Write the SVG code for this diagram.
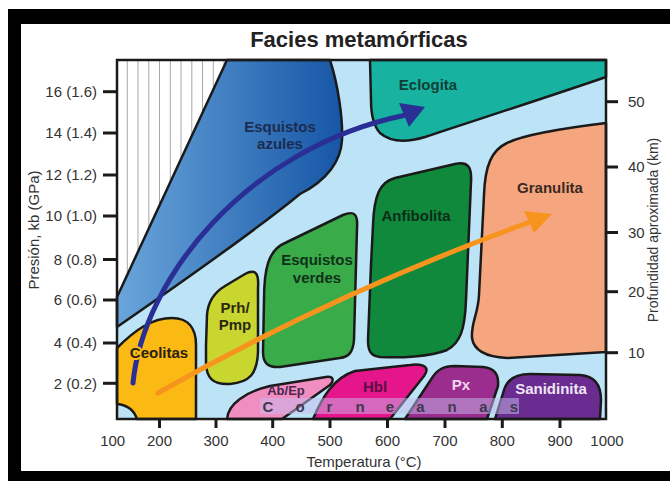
<svg xmlns="http://www.w3.org/2000/svg" width="670" height="481" viewBox="0 0 670 481">
<defs>
<linearGradient id="gBlue" x1="117" y1="0" x2="342" y2="0" gradientUnits="userSpaceOnUse">
<stop offset="0" stop-color="#6aa6db"/><stop offset="1" stop-color="#1656a6"/>
</linearGradient>
<clipPath id="hatchClip"><polygon points="117,60 227,60 117,297"/></clipPath>
<style>
.f{stroke:#1a1a1a;stroke-width:2.5;stroke-linejoin:round}
.lbl{font-family:"Liberation Sans",Arial,sans-serif;font-weight:bold;font-size:15px;text-anchor:middle}
.ax{font-family:"Liberation Sans",Arial,sans-serif;font-size:15px;fill:#333}
.axl{text-anchor:end}
.axm{text-anchor:middle}
.tick{stroke:#1a1a1a;stroke-width:3}
.hatch{stroke:#a8a8a8;stroke-width:1}
.arrow{fill:none;stroke-width:5;stroke-linecap:round}
</style>
</defs>
<rect width="670" height="481" fill="#fff"/>
<!-- black frame -->
<g id="frame" fill="#000">
<rect x="8" y="9" width="662" height="15"/>
<rect x="8" y="9" width="13" height="472"/>
<rect x="8" y="471" width="662" height="10"/>
</g>
<text x="359" y="47" font-family="'Liberation Sans',Arial,sans-serif" font-weight="bold" font-size="22" fill="#222" text-anchor="middle">Facies metamórficas</text>

<!-- plot background -->
<rect x="117" y="60" width="489" height="359" fill="#bde3f7"/>
<g id="hatched">
<polygon points="117,60 227,60 117,297" fill="#fff"/>
<g clip-path="url(#hatchClip)" class="hatch">
<line x1="127.3" y1="60" x2="127.3" y2="300"/><line x1="138" y1="60" x2="138" y2="300"/>
<line x1="148.8" y1="60" x2="148.8" y2="300"/><line x1="159.5" y1="60" x2="159.5" y2="300"/>
<line x1="170.3" y1="60" x2="170.3" y2="300"/><line x1="181" y1="60" x2="181" y2="300"/>
<line x1="191.8" y1="60" x2="191.8" y2="300"/><line x1="202.5" y1="60" x2="202.5" y2="300"/>
<line x1="213.3" y1="60" x2="213.3" y2="300"/><line x1="224" y1="60" x2="224" y2="300"/>
</g>
</g>

<g id="esquistos-azules">
<path class="f" fill="url(#gBlue)" d="M227,60 L330,60 C338,85 343,118 342,140 C341,160 328,180 300,194 Q250,235 117,327 L117,297 Z"/>
</g>
<g id="eclogita">
<path class="f" fill="#17b3a0" d="M370,60 L606,60 L606,77 C560,93 470,122 425,137 Q395,146 380,133 Q371,123 371,100 Z"/>
</g>
<g id="granulita">
<path class="f" fill="#f6a67f" d="M606,123 C565,128 525,134 507,143 C492,150 485,165 484,195 L479,295 C478,315 471,322 472,338 C474,352 488,357 507,358 L606,352 Z"/>
</g>
<g id="anfibolita">
<path class="f" fill="#10893d" d="M373,225 C374,195 380,182 395,178 L455,164 C468,161 472,167 471,182 L466,300 C465,330 460,343 447,350 C430,357 400,358 380,357 C370,356 368,350 368,340 L371,265 Z"/>
</g>
<g id="esquistos-verdes">
<path class="f" fill="#3aab49" d="M264,300 C264,270 268,250 285,243 L343,215 C355,210 358,215 357,228 L354,340 C353,352 349,357 340,358 L280,367 C268,368 263,363 263,352 Z"/>
</g>
<g id="prh-pmp">
<path class="f" fill="#c9d630" d="M206,345 L207,315 C208,300 215,292 225,286 L245,274 C256,268 259,274 258,288 L258,352 C257,374 250,382 230,384 C213,385 206,378 206,362 Z"/>
</g>
<g id="ceolitas">
<path class="f" fill="#fbb913" d="M117,348 C135,330 152,318 172,318 C188,318 196,328 196,345 L196,419 L137,419 C134,410 127,405 117,404 Z"/>
</g>
<g id="ab-ep">
<path class="f" fill="#f08dc1" d="M227,419 C228,404 245,392 270,386 L326,377 C334,376 334,381 330,385 L282,419 Z"/>
</g>
<g id="hbl">
<path class="f" fill="#e5158b" d="M313,419 C322,398 333,378 355,371 L410,365 C425,363 430,368 424,376 L390,419 Z"/>
</g>
<g id="px">
<path class="f" fill="#9a2d8e" d="M405,419 L432,378 C437,370 443,366 455,366 L483,367 C495,368 499,375 498,386 L487,419 Z"/>
</g>
<g id="sanidinita">
<path class="f" fill="#6a2c91" d="M495,419 L504,390 C507,380 515,374 530,374 L580,375 C595,376 601,385 601,400 L600,419 Z"/>
</g>

<!-- connectors: P-T paths -->
<g id="connectors">
<path class="arrow" stroke="#2a2f96" d="M133,383 C143,280 245,148 406,115"/>
<polygon fill="#2a2f96" points="425,107 399,103 409,127"/>
<path class="arrow" stroke="#f7941d" d="M158,393 Q330,295 530,222"/>
<polygon fill="#f7941d" points="552,214 524,211 534,233"/>
</g>

<!-- labels -->
<g id="labels" class="lbl">
<text x="280" y="132" fill="#1c2c50">Esquistos</text>
<text x="280" y="149" fill="#1c2c50">azules</text>
<text x="428" y="90" fill="#0f3f36">Eclogita</text>
<text x="550" y="193" fill="#3b2a22">Granulita</text>
<text x="416" y="221" fill="#0b2e17">Anfibolita</text>
<text x="317" y="265" fill="#10301a">Esquistos</text>
<text x="317" y="283" fill="#10301a">verdes</text>
<text x="235" y="313" fill="#2a2a10">Prh/</text>
<text x="235" y="330" fill="#2a2a10">Pmp</text>
<text x="159" y="358" fill="#2a2010" stroke="#fbb913" stroke-width="4" paint-order="stroke">Ceolitas</text>
<text x="286" y="395" fill="#4a2550" font-size="13">Ab/Ep</text>
<text x="375" y="392" fill="#5a1040">Hbl</text>
<text x="461" y="390" fill="#f3d5ee">Px</text>
<text x="551" y="394" fill="#efe6f5">Sanidinita</text>
</g>
<g id="corneanas">
<rect x="260" y="398" width="259" height="16" fill="#c8bef0" opacity="0.5"/>
<text class="lbl" font-size="16" fill="#40384f" x="268 300 329.5 360 390 420.5 452 483.3 514" y="412">Corneanas</text>
</g>

<!-- axes -->
<rect x="117" y="60" width="489" height="359" fill="none" stroke="#1a1a1a" stroke-width="2.5"/>
<g class="tick">
<line x1="103" y1="91.7" x2="117" y2="91.7"/><line x1="103" y1="133" x2="117" y2="133"/>
<line x1="103" y1="175" x2="117" y2="175"/><line x1="103" y1="216" x2="117" y2="216"/>
<line x1="103" y1="259.5" x2="117" y2="259.5"/><line x1="103" y1="300" x2="117" y2="300"/>
<line x1="103" y1="343" x2="117" y2="343"/><line x1="103" y1="383.3" x2="117" y2="383.3"/>
<line x1="606" y1="101.7" x2="618" y2="101.7"/><line x1="606" y1="167" x2="618" y2="167"/>
<line x1="606" y1="232.5" x2="618" y2="232.5"/><line x1="606" y1="291.7" x2="618" y2="291.7"/>
<line x1="606" y1="352.7" x2="618" y2="352.7"/>
<line x1="159.5" y1="419" x2="159.5" y2="428"/><line x1="216" y1="419" x2="216" y2="428"/>
<line x1="272.7" y1="419" x2="272.7" y2="428"/><line x1="330" y1="419" x2="330" y2="428"/>
<line x1="387.5" y1="419" x2="387.5" y2="428"/><line x1="445" y1="419" x2="445" y2="428"/>
<line x1="502.3" y1="419" x2="502.3" y2="428"/><line x1="560" y1="419" x2="560" y2="428"/>
</g>
<g class="ax axl">
<text x="97" y="97">16 (1.6)</text><text x="97" y="138.3">14 (1.4)</text>
<text x="97" y="180.3">12 (1.2)</text><text x="97" y="221.3">10 (1.0)</text>
<text x="97" y="264.8">8 (0.8)</text><text x="97" y="305.3">6 (0.6)</text>
<text x="97" y="348.3">4 (0.4)</text><text x="97" y="388.6">2 (0.2)</text>
</g>
<g class="ax">
<text x="628" y="107">50</text><text x="628" y="172.3">40</text>
<text x="628" y="237.8">30</text><text x="628" y="297">20</text>
<text x="628" y="358">10</text>
</g>
<g class="ax axm">
<text x="112.7" y="446">100</text><text x="159.5" y="446">200</text>
<text x="216" y="446">300</text><text x="272.7" y="446">400</text>
<text x="330" y="446">500</text><text x="387.5" y="446">600</text>
<text x="445" y="446">700</text><text x="502.3" y="446">800</text>
<text x="560" y="446">900</text><text x="607" y="446">1000</text>
<text x="364" y="467">Temperatura (°C)</text>
<text x="39" y="230" transform="rotate(-90 39 230)">Presión, kb (GPa)</text>
<text x="658" y="230" font-size="14" transform="rotate(-90 658 230)">Profundidad aproximada (km)</text>
</g>
</svg>
